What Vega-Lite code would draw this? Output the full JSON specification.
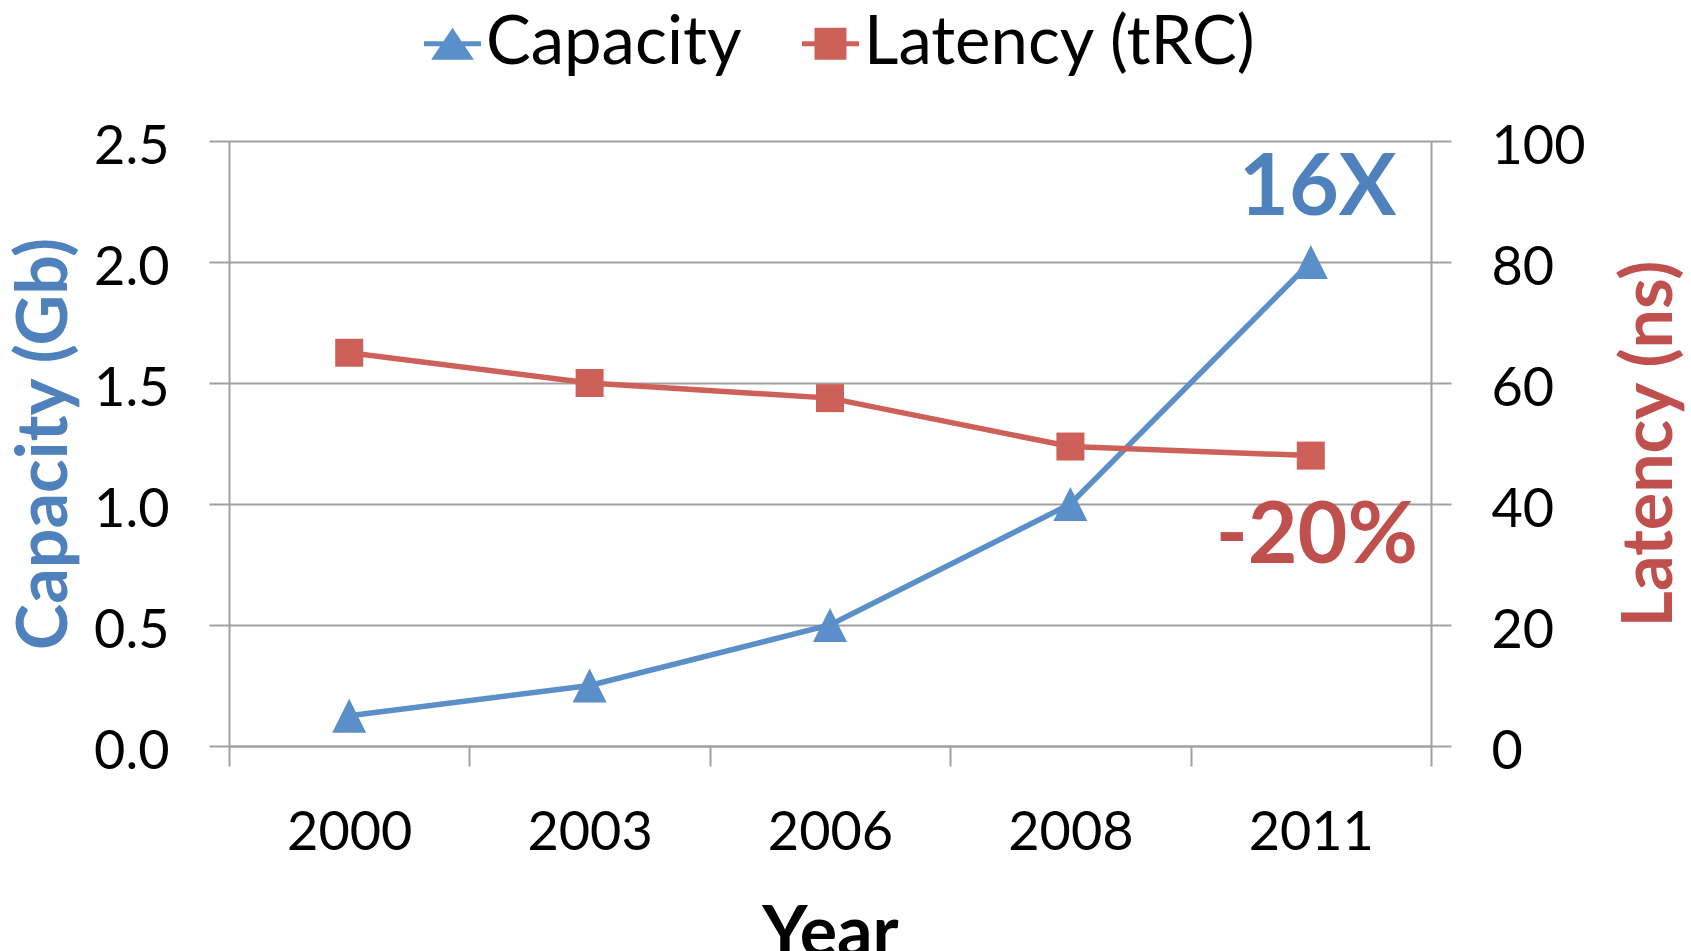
{
  "$schema": "https://vega.github.io/schema/vega-lite/v6.json",
  "width": 1202,
  "height": 605,
  "autosize": {"type": "none"},
  "padding": {"left": 229, "top": 141, "right": 260, "bottom": 205},
  "background": "white",
  "config": {
    "view": {"stroke": null},
    "font": "Lato",
    "axis": {
      "domainColor": "#a0a0a0", "domainWidth": 2,
      "tickColor": "#a0a0a0", "tickWidth": 2, "tickSize": 20,
      "gridColor": "#a0a0a0", "gridWidth": 2,
      "labelFont": "Lato", "labelFontSize": 54, "labelColor": "black",
      "titleFont": "Lato", "titleFontWeight": "bold", "titleFontSize": 70, "titleColor": "black"
    }
  },
  "data": {"values": [
    {"year": "2000", "capacity": 0.125, "latency": 65},
    {"year": "2003", "capacity": 0.25, "latency": 60},
    {"year": "2006", "capacity": 0.5, "latency": 57.5},
    {"year": "2008", "capacity": 1.0, "latency": 49.5},
    {"year": "2011", "capacity": 2.0, "latency": 48}
  ]},
  "encoding": {
    "x": {
      "field": "year", "type": "ordinal",
      "scale": {"type": "band", "paddingInner": 0, "paddingOuter": 0},
      "axis": {"title": "Year", "labelAngle": 0, "tickBand": "extent", "labelPadding": 40, "titlePadding": 40, "grid": false}
    }
  },
  "layer": [
    {
      "encoding": {
        "y": {
          "field": "capacity", "type": "quantitative",
          "scale": {"domain": [0, 2.5]},
          "axis": {"title": "Capacity (Gb)", "titleColor": "#4f81bd", "values": [0, 0.5, 1, 1.5, 2, 2.5], "format": ".1f", "grid": true, "orient": "left", "labelPadding": 40, "labelOffset": 6, "titlePadding": 12}
        }
      },
      "layer": [
        {
          "mark": {"type": "line", "strokeWidth": 5.5},
          "encoding": {
            "color": {
              "datum": "Capacity",
              "scale": {"domain": ["Capacity", "Latency (tRC)"], "range": ["#5b8fc9", "#cd6159"]},
              "legend": {
                "orient": "none", "legendX": 190, "legendY": -131, "direction": "horizontal",
                "title": null, "labelFont": "Lato", "labelFontSize": 67, "labelColor": "black", "labelLimit": 0,
                "labelOffset": 0, "columnPadding": 55, "symbolSize": 3249, "symbolStrokeWidth": 0,
                "encode": {
                  "symbols": {
                    "update": {
                      "shape": {"signal": "datum.value === 'Capacity' ? 'M-1,-0.09H1V0.09H-1Z M0,-0.56L0.75,0.56H-0.75Z' : 'M-1,-0.09H1V0.09H-1Z M-0.56,-0.56H0.56V0.56H-0.56Z'"},
                      "fill": {"scale": "color", "field": "value"},
                      "stroke": {"value": "transparent"},
                      "opacity": {"value": 1},
                      "fillOpacity": {"value": 1}
                    }
                  }
                }
              }
            }
          }
        },
        {
          "mark": {"type": "point", "shape": "M0,-1L1,1L-1,1Z", "filled": true, "size": 1156, "opacity": 1},
          "encoding": {"color": {"datum": "Capacity"}}
        },
        {
          "data": {"values": [{"year": "2011", "capacity": 2.3, "note": "16X"}]},
          "mark": {"type": "text", "fontSize": 86, "fontWeight": "bold", "color": "#4f81bd", "dx": 7, "font": "Lato"},
          "encoding": {"text": {"field": "note"}}
        }
      ]
    },
    {
      "encoding": {
        "y": {
          "field": "latency", "type": "quantitative",
          "scale": {"domain": [0, 100]},
          "axis": {"title": "Latency (ns)", "titleColor": "#c0504d", "titleAngle": 270, "values": [0, 20, 40, 60, 80, 100], "grid": false, "orient": "right", "labelPadding": 40, "labelOffset": 6, "titlePadding": 102}
        }
      },
      "layer": [
        {
          "mark": {"type": "line", "strokeWidth": 5.5},
          "encoding": {"color": {"datum": "Latency (tRC)"}}
        },
        {
          "mark": {"type": "point", "shape": "square", "filled": true, "size": 784, "opacity": 1},
          "encoding": {"color": {"datum": "Latency (tRC)"}}
        },
        {
          "data": {"values": [{"year": "2011", "latency": 34.6, "note": "-20%"}]},
          "mark": {"type": "text", "fontSize": 86, "fontWeight": "bold", "color": "#c0504d", "dx": 6, "font": "Lato"},
          "encoding": {"text": {"field": "note"}}
        }
      ]
    }
  ],
  "resolve": {"scale": {"y": "independent"}}
}
